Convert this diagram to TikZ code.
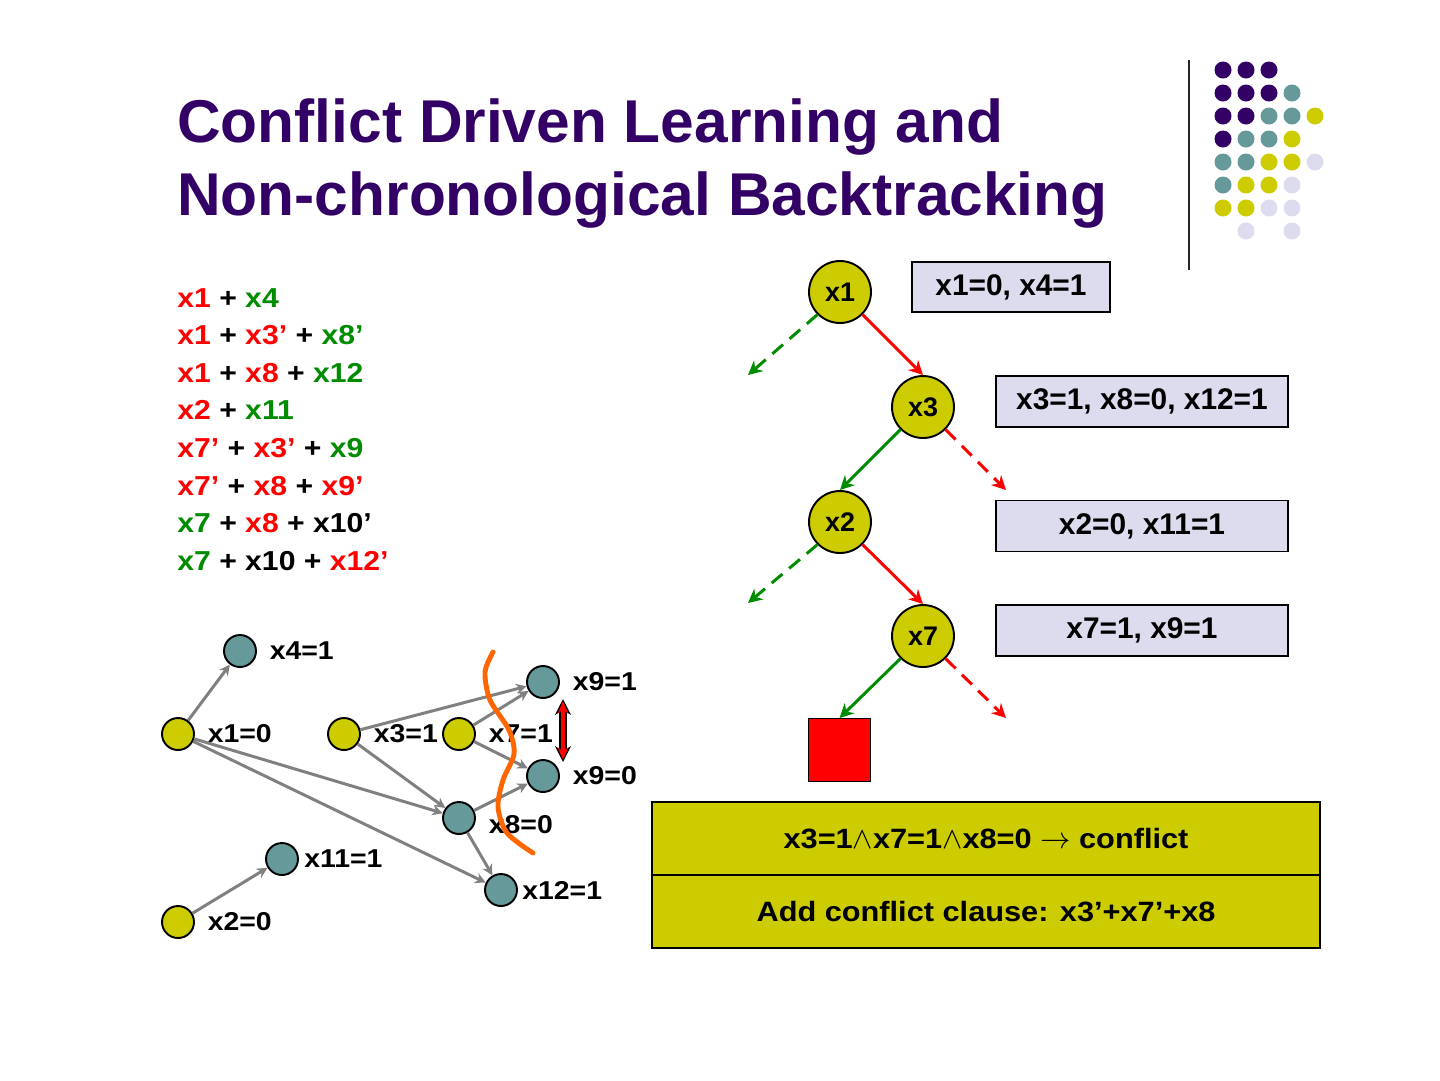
\documentclass[tikz,border=0pt]{standalone}
\usepackage{fontspec}
\setmainfont{Liberation Sans}
\newfontfamily\widesans[FakeStretch=1.1]{Liberation Sans}
\usetikzlibrary{arrows.meta,positioning}
\definecolor{slpurple}{RGB}{51,0,102}
\definecolor{slteal}{RGB}{102,153,153}
\definecolor{slyellow}{RGB}{204,204,0}
\definecolor{sllav}{RGB}{220,220,238}
\definecolor{slgreen}{RGB}{0,140,0}
\definecolor{slred}{RGB}{255,0,0}
\definecolor{slorange}{RGB}{255,102,0}
\definecolor{slgray}{RGB}{128,128,128}
\newcommand{\litr}[1]{\textcolor{slred}{#1}}
\newcommand{\litg}[1]{\textcolor{slgreen}{#1}}

\begin{document}
\begin{tikzpicture}[x=0.02cm,y=-0.02cm,
  txt/.style={inner sep=0pt,anchor=base west},
  title/.style={txt,text=slpurple,font=\bfseries\fontsize{34.4}{41}\selectfont},
  clause/.style={txt,font=\widesans\bfseries\fontsize{15.6}{18}\selectfont},
  tnode/.style={circle,draw,fill=slyellow,line width=1.1pt,minimum size=1.24cm,inner sep=0pt,font=\bfseries\fontsize{15.3}{18}\selectfont},
  gnode/.style={circle,draw,line width=1.1pt,minimum size=0.64cm,inner sep=0pt},
  glabel/.style={label={[label distance=0.25cm]right:{#1}}},
  every label/.append style={inner sep=0pt,font=\widesans\bfseries\fontsize{14.7}{17}\selectfont},
  gedge/.style={-{Stealth[length=6pt,width=6pt]},slgray,line width=1.7pt},
  tarrow/.style={-{Stealth[length=8pt,width=8pt]},line width=1.7pt},
  tfree/.style={tarrow,dash pattern=on 8pt off 5pt},
  vbox/.style={draw,fill=sllav,line width=1.1pt,minimum height=1.02cm,font=\bfseries\fontsize{17}{20}\selectfont},
  cbox/.style={draw,fill=slyellow,line width=1.2pt,minimum width=13.36cm,minimum height=1.46cm,font=\widesans\bfseries\fontsize{15.9}{19}\selectfont}]
\useasboundingbox (0,0) rectangle (1440,1080);

% title and logo
\node[title] (head1) at (177,142) {Conflict Driven Learning and};
\node[title] (head2) at (177,215) {Non-chronological Backtracking};
\draw[line width=1.1pt,black!85] (1189,60) -- (1189,270);
\foreach \c/\r/\col in {1/1/slpurple,2/1/slpurple,3/1/slpurple,
    1/2/slpurple,2/2/slpurple,3/2/slpurple,4/2/slteal,
    1/3/slpurple,2/3/slpurple,3/3/slteal,4/3/slteal,5/3/slyellow,
    1/4/slpurple,2/4/slteal,3/4/slteal,4/4/slyellow,
    1/5/slteal,2/5/slteal,3/5/slyellow,4/5/slyellow,5/5/sllav,
    1/6/slteal,2/6/slyellow,3/6/slyellow,4/6/sllav,
    1/7/slyellow,2/7/slyellow,3/7/sllav,4/7/sllav,
    2/8/sllav,4/8/sllav}
  \fill[\col] ({1200+23*\c},{47+23*\r}) circle (8.5);

% clauses
\node[clause] (cl1) at (177,307) {\litr{x1} + \litg{x4}};
\node[clause] (cl2) at (177,344.6) {\litr{x1} + \litr{x3’} + \litg{x8’}};
\node[clause] (cl3) at (177,382.2) {\litr{x1} + \litr{x8} + \litg{x12}};
\node[clause] (cl4) at (177,419.8) {\litr{x2} + \litg{x11}};
\node[clause] (cl5) at (177,457.4) {\litr{x7’} + \litr{x3’} + \litg{x9}};
\node[clause] (cl6) at (177,495) {\litr{x7’} + \litr{x8} + \litr{x9’}};
\node[clause] (cl7) at (177,532.6) {\litg{x7} + \litr{x8} + x10’};
\node[clause] (cl8) at (177,570.2) {\litg{x7} + x10 + \litr{x12’}};

% implication graph
\node[gnode,fill=slteal,glabel={x4=1}] (g4) at (240,651) {};
\node[gnode,fill=slyellow,glabel={x1=0}] (g1) at (178,734) {};
\node[gnode,fill=slyellow,glabel={x3=1}] (g3) at (344,734) {};
\node[gnode,fill=slyellow,glabel={x7=1}] (g7) at (459,734) {};
\node[gnode,fill=slteal,glabel={x9=1}] (g9a) at (543,682) {};
\node[gnode,fill=slteal,glabel={x9=0}] (g9b) at (543,776) {};
\node[gnode,fill=slteal,label={[label distance=0.25cm,yshift=-0.14cm]right:{x8=0}}] (g8) at (459,818) {};
\node[gnode,fill=slteal,label={[label distance=0.1cm]right:{x11=1}}] (g11) at (282,859) {};
\node[gnode,fill=slteal,label={[label distance=0.08cm]right:{x12=1}}] (g12) at (501,890) {};
\node[gnode,fill=slyellow,glabel={x2=0}] (g2) at (178,922) {};
\draw[gedge] (g1) -- (g4);
\draw[gedge] (g1) -- (g8);
\draw[gedge] (g1) -- (g12);
\draw[gedge] (g3) -- (g9a);
\draw[gedge] (g3) -- (g8);
\draw[gedge] (g7) -- (g9a);
\draw[gedge] (g7) -- (g9b);
\draw[gedge] (g8) -- (g9b);
\draw[gedge] (g8) -- (g12);
\draw[gedge] (g2) -- (g11);
\coordinate (c9a) at (563,699);
\coordinate (c9b) at (563,762);
\draw[{Stealth[length=9pt,width=9pt]}-{Stealth[length=9pt,width=9pt]},line width=4pt] (c9a) -- (c9b);
\draw[{Stealth[length=7pt,width=6pt]}-{Stealth[length=7pt,width=6pt]},slred,line width=2.4pt,shorten <=1.3pt,shorten >=1.3pt] (c9a) -- (c9b);
\draw[slorange,line width=2.8pt,line cap=round] plot[smooth] coordinates {(493,652) (485,672) (490,700) (509,730) (514,754) (503,780) (498,807) (507,833) (533,853)};

% decision tree
\node[tnode] (t1) at (840,292) {x1};
\node[tnode] (t3) at (923,407) {x3};
\node[tnode] (t2) at (840,522) {x2};
\node[tnode] (t7) at (923,636) {x7};
\node[draw,fill=slred,line width=0.8pt,minimum size=1.25cm] (sq) at (839.5,750) {};
\coordinate (f1) at (748,375);
\coordinate (f3) at (1006,490);
\coordinate (f2) at (748,603);
\coordinate (f7) at (1006,718);
\draw[tarrow,slred] (t1.-45) -- (t3.north);
\draw[tfree,slgreen] (t1.225) -- (f1);
\draw[tarrow,slgreen] (t3.225) -- (t2.north);
\draw[tfree,slred] (t3.-45) -- (f3);
\draw[tarrow,slred] (t2.-45) -- (t7.north);
\draw[tfree,slgreen] (t2.225) -- (f2);
\draw[tarrow,slgreen] (t7.225) -- (sq.north);
\draw[tfree,slred] (t7.-45) -- (f7);

\node[vbox,minimum width=3.96cm,minimum height=1cm] (v1) at (1011,287) {x1=0, x4=1};
\node[vbox,minimum width=5.84cm] (v3) at (1142,401.5) {x3=1, x8=0, x12=1};
\node[vbox,minimum width=5.84cm] (v2) at (1142,526) {x2=0, x11=1};
\node[vbox,minimum width=5.84cm] (v7) at (1142,630.5) {x7=1, x9=1};

\node[cbox] (conf) at (986,838.5) {x3=1$\wedge$x7=1$\wedge$x8=0 $\rightarrow$ conflict};
\node[cbox] (learn) at (986,911.5) {Add conflict clause: x3’+x7’+x8};
\end{tikzpicture}
\end{document}
